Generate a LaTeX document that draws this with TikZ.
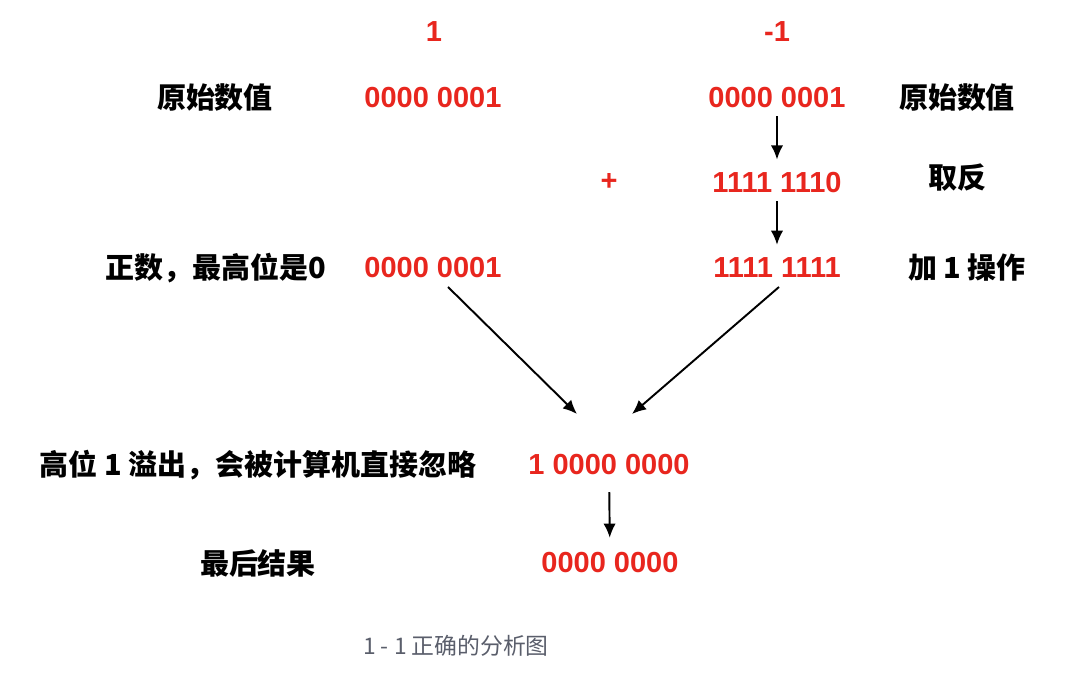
\documentclass[tikz,border=0pt]{standalone}
\usepackage{fontspec}
\setmainfont{Liberation Sans}
\newfontfamily\cjk{Noto Sans CJK SC}
\usetikzlibrary{arrows.meta}
\definecolor{numred}{HTML}{E8261E}
\definecolor{capgray}{HTML}{5A5E6B}

\begin{document}
\begin{tikzpicture}[x = 0.02cm, y = -0.02cm]
   \tikzset{NumStyle/.style={text=numred, font=\fontsize{16.5}{18}\selectfont\bfseries}}
   \tikzset{LabelStyle/.style={text=black, font=\fontsize{16.5}{18}\selectfont\cjk\bfseries}}
   \tikzset{ArrowStyle/.style={-{Latex[length=8pt,width=7pt]}, line width=1.1pt}}
   \useasboundingbox (0,0) rectangle (1080,675);
   % column heads
   \node[NumStyle] (hpos) at (434,32) {1};
   \node[NumStyle] (hneg) at (777,32) {-1};
   % first row
   \node[LabelStyle] (lorig) at (215,98) {原始数值};
   \node[NumStyle] (pos1) at (433,98) {0000 0001};
   \node[NumStyle] (neg1) at (777,98) {0000 0001};
   \node[LabelStyle] (rorig) at (957,98) {原始数值};
   % second row
   \node[NumStyle] (plus) at (609,182) {+};
   \node[NumStyle] (neg2) at (777,183) {1111 1110};
   \node[LabelStyle] (rinv) at (957,178) {取反};
   % third row
   \node[LabelStyle] (lpos) at (216,268) {正数，最高位是0};
   \node[NumStyle] (pos3) at (433,268) {0000 0001};
   \node[NumStyle] (neg3) at (777,268) {1111 1111};
   \node[LabelStyle] (radd) at (967,268) {加 1 操作};
   % sum
   \node[LabelStyle] (lover) at (258,465) {高位 1 溢出，会被计算机直接忽略};
   \node[NumStyle] (sum) at (609,465) {1 0000 0000};
   \node[LabelStyle] (lres) at (258,563) {最后结果};
   \node[NumStyle] (res) at (610,563) {0000 0000};
   \node[text=capgray, font=\fontsize{13}{15}\selectfont\cjk] (cap) at (456,646) {1 - 1 正确的分析图};
   \coordinate (outL) at (448,287);
   \coordinate (outR) at (779,287);
   \coordinate (inL) at (577,414);
   \coordinate (inR) at (632,414);
   \draw[ArrowStyle, shorten <=1pt, shorten >=4pt] (neg1) -- (neg2);
   \draw[ArrowStyle, shorten <=1pt, shorten >=4pt] (neg2) -- (neg3);
   \draw[ArrowStyle] (outL) -- (inL);
   \draw[ArrowStyle] (outR) -- (inR);
   \draw[ArrowStyle, shorten <=6pt, shorten >=5pt] (sum) -- (res);
\end{tikzpicture}
\end{document}
